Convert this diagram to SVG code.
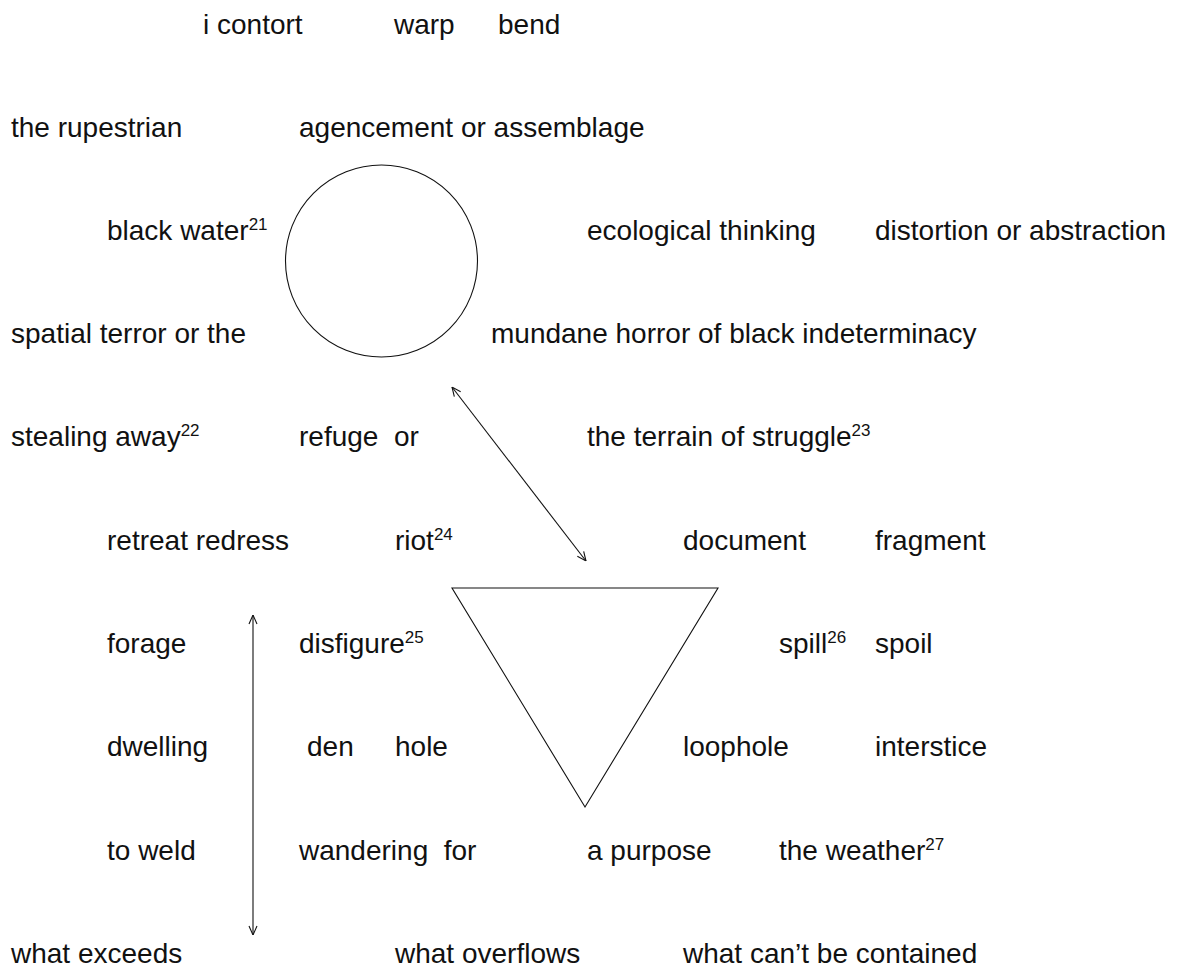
<svg xmlns="http://www.w3.org/2000/svg" width="1185" height="973" viewBox="0 0 1185 973">
<style>
text{font-family:"Liberation Sans",Arial,sans-serif;font-size:28px;fill:#111;white-space:pre}
.sup{font-size:17px}
.ln{fill:none;stroke:#111;stroke-width:1.1}
</style>
<defs>
<marker id="ah" viewBox="0 0 10 10" refX="10" refY="5" markerWidth="10" markerHeight="10" markerUnits="userSpaceOnUse" orient="auto-start-reverse">
<path d="M1,1 L10,5 L1,9" fill="none" stroke="#111" stroke-width="1.1"/>
</marker>
</defs>
<rect width="1185" height="973" fill="#fff"/>
<g id="circle"><circle class="ln" cx="381.5" cy="261" r="96"/></g>
<g id="triangle"><polygon class="ln" points="452,588 718,588 585,807"/></g>
<g id="connectors">
<line class="ln" x1="452" y1="387" x2="586" y2="561" marker-start="url(#ah)" marker-end="url(#ah)"/>
<line class="ln" x1="253" y1="615" x2="253" y2="935" marker-start="url(#ah)" marker-end="url(#ah)"/>
</g>
<g id="row0">
<text x="203" y="34">i contort</text>
<text x="394" y="34">warp</text>
<text x="498" y="34">bend</text>
</g>
<g id="row1">
<text x="11" y="137">the rupestrian</text>
<text x="299" y="137">agencement or assemblage</text>
</g>
<g id="row2">
<text x="107" y="240">black water<tspan class="sup" dy="-10">21</tspan></text>
<text x="587" y="240">ecological thinking</text>
<text x="875" y="240">distortion or abstraction</text>
</g>
<g id="row3">
<text x="11" y="343">spatial terror or the</text>
<text x="491" y="343">mundane horror of black indeterminacy</text>
</g>
<g id="row4">
<text x="11" y="446">stealing away<tspan class="sup" dy="-10">22</tspan></text>
<text x="299" y="446">refuge  or</text>
<text x="587" y="446">the terrain of struggle<tspan class="sup" dy="-10">23</tspan></text>
</g>
<g id="row5">
<text x="107" y="550">retreat redress</text>
<text x="395" y="550">riot<tspan class="sup" dy="-10">24</tspan></text>
<text x="683" y="550">document</text>
<text x="875" y="550">fragment</text>
</g>
<g id="row6">
<text x="107" y="653">forage</text>
<text x="299" y="653">disfigure<tspan class="sup" dy="-10">25</tspan></text>
<text x="779" y="653">spill<tspan class="sup" dy="-10">26</tspan></text>
<text x="875" y="653">spoil</text>
</g>
<g id="row7">
<text x="107" y="756">dwelling</text>
<text x="307" y="756">den</text>
<text x="395" y="756">hole</text>
<text x="683" y="756">loophole</text>
<text x="875" y="756">interstice</text>
</g>
<g id="row8">
<text x="107" y="860">to weld</text>
<text x="299" y="860">wandering  for</text>
<text x="587" y="860">a purpose</text>
<text x="779" y="860">the weather<tspan class="sup" dy="-10">27</tspan></text>
</g>
<g id="row9">
<text x="11" y="963">what exceeds</text>
<text x="395" y="963">what overflows</text>
<text x="683" y="963">what can’t be contained</text>
</g>
</svg>
